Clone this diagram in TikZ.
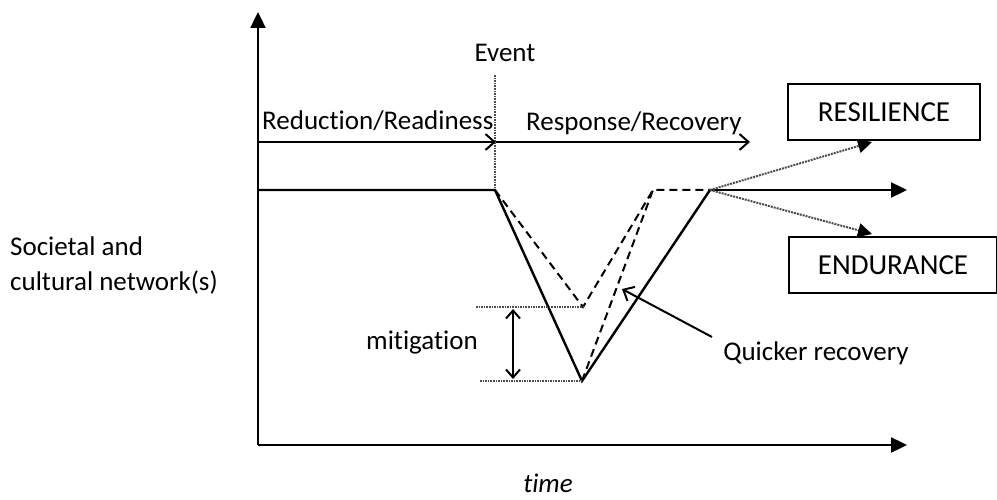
\documentclass[tikz,border=0pt]{standalone}
\usepackage{fontspec}
\setmainfont{Carlito}[Ligatures={NoCommon}]
\usetikzlibrary{arrows.meta}

\tikzset{
  axis/.style={line width=2.4pt, -{Triangle[length=16pt, width=15pt]}},
  level/.style={line width=2.4pt},
  quick/.style={line width=2pt, dash pattern=on 8pt off 5pt},
  phase/.style={line width=2pt, -{Straight Barb[length=9pt, width=16pt, line width=2pt]}},
  guide/.style={line width=1.6pt, densely dotted, black!70},
  branch/.style={line width=2pt, densely dotted, black!70, -{Triangle[length=14pt, width=14pt, color=black]}},
  outcome/.style={draw, line width=1.6pt, minimum height=56pt, inner sep=0pt, font=\fontsize{29}{32}\selectfont},
  txt/.style={inner sep=0pt, font=\fontsize{27}{35}\selectfont}
}

\begin{document}
\begin{tikzpicture}[x=1pt, y=-1pt]
  \useasboundingbox (0,0) rectangle (997,500);

  % оси
  \coordinate (O) at (258,445);
  \coordinate (ytop) at (258,12);
  \coordinate (xend) at (907,445);
  \draw [axis] (O) -- (ytop);
  \draw [axis] (O) -- (xend);
  \node [txt, anchor=west, align=left] (soc) at (10,265) {Societal and\\cultural network(s)};
  \node [txt, font=\fontsize{27}{30}\selectfont\itshape] (time) at (548,483) {time};

  % событие и фазы
  \coordinate (evtop) at (495,75);
  \coordinate (ev) at (495,190);
  \draw [guide] (evtop) -- (ev);
  \node [txt] (event) at (505,53) {Event};
  \coordinate (p0) at (258,142);
  \coordinate (p1) at (496,142);
  \coordinate (p2) at (750,142);
  \draw [phase] (p0) -- (p1);
  \draw [phase] (p1) -- (p2);
  \node [txt, anchor=west] (red) at (262,121) {Reduction/Readiness};
  \node [txt, anchor=west] (resp) at (526,123) {Response/Recovery};

  % уровень сети
  \coordinate (start) at (258,190);
  \coordinate (low) at (582,381);
  \coordinate (up) at (710,190);
  \coordinate (goal) at (907,190);
  \coordinate (mlow) at (583,307);
  \coordinate (qtop) at (653,190);
  \draw [level, line join=miter] (start) -- (ev) -- (low) -- (up);
  \draw [axis] (up) -- (goal);
  \draw [quick] (ev) -- (mlow) -- (qtop) -- (up);
  \draw [quick] (low) -- (qtop);

  % смягчение
  \draw [guide] (476,307) -- (mlow);
  \draw [guide] (480,381) -- (low);
  \coordinate (m1) at (513,309);
  \coordinate (m2) at (513,379);
  \draw [line width=2pt, {Straight Barb[length=8pt, width=14pt, line width=2pt]}-{Straight Barb[length=8pt, width=14pt, line width=2pt]}] (m1) -- (m2);
  \node [txt] (mit) at (422,343) {mitigation};

  % быстрое восстановление
  \node [txt] (qr) at (816,353) {Quicker recovery};
  \coordinate (qa) at (712,337);
  \coordinate (qb) at (622,289);
  \draw [phase] (qa) -- (qb);

  % исходы
  \node [outcome, minimum width=192pt] (res) at (884,112) {RESILIENCE};
  \node [outcome, minimum width=208pt] (endu) at (893,265) {ENDURANCE};
  \coordinate (r) at (872,142);
  \coordinate (e) at (872,234);
  \draw [branch] (up) -- (r);
  \draw [branch] (up) -- (e);
\end{tikzpicture}
\end{document}
